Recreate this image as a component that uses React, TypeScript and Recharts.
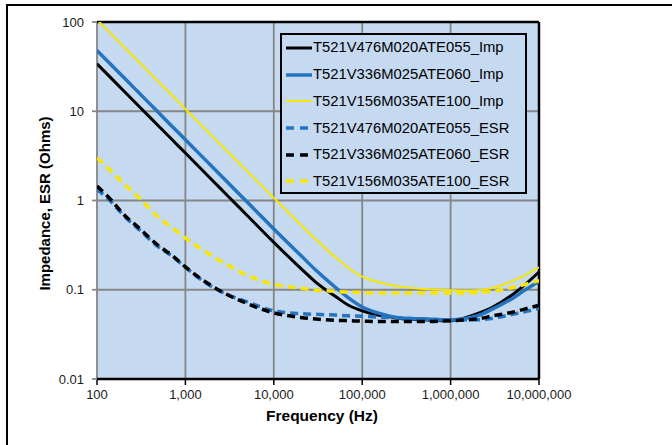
import { CartesianGrid, Line, LineChart, ReferenceLine, XAxis, YAxis } from 'recharts'

const FREQ = [
  100, 140, 200, 300, 500, 700, 1e3, 2e3, 3e3, 5e3, 1e4, 2e4, 3e4, 5e4, 7e4,
  1e5, 1.5e5, 2e5, 3e5, 5e5, 1e6, 1.5e6, 2e6, 3e6, 5e6, 7e6, 1e7,
]

const IMP_476 = [
  34, 24.3, 17, 11.3, 6.8, 4.85, 3.4, 1.7, 1.13, 0.68, 0.34, 0.175, 0.121, 0.084, 0.067,
  0.058, 0.052, 0.05, 0.047, 0.046, 0.045, 0.049, 0.054, 0.064, 0.088, 0.115, 0.158,
]
const IMP_336 = [
  48, 34.3, 24, 16, 9.6, 6.85, 4.8, 2.4, 1.6, 0.96, 0.48, 0.245, 0.165, 0.106, 0.081,
  0.064, 0.055, 0.051, 0.048, 0.047, 0.046, 0.048, 0.051, 0.061, 0.08, 0.1, 0.124,
]
const IMP_156 = [
  106, 76, 53, 35.4, 21.2, 15.2, 10.6, 5.3, 3.54, 2.12, 1.07, 0.54, 0.366, 0.231, 0.175,
  0.14, 0.122, 0.114, 0.107, 0.102, 0.099, 0.098, 0.099, 0.105, 0.125, 0.146, 0.178,
]
const ESR_476 = [
  1.33, 1.0, 0.68, 0.47, 0.3, 0.24, 0.178, 0.108, 0.088, 0.073, 0.058, 0.054, 0.053, 0.052, 0.051,
  0.0505, 0.0495, 0.049, 0.048, 0.047, 0.046, 0.046, 0.046, 0.048, 0.053, 0.057, 0.062,
]
const ESR_336 = [
  1.45, 1.05, 0.7, 0.49, 0.31, 0.245, 0.18, 0.11, 0.088, 0.07, 0.055, 0.049, 0.047, 0.0455, 0.045,
  0.0445, 0.044, 0.044, 0.044, 0.044, 0.045, 0.046, 0.047, 0.051, 0.056, 0.061, 0.067,
]
const ESR_156 = [
  3.0, 2.2, 1.55, 1.07, 0.64, 0.5, 0.38, 0.24, 0.19, 0.145, 0.115, 0.104, 0.099, 0.096, 0.094,
  0.093, 0.092, 0.092, 0.092, 0.092, 0.092, 0.092, 0.093, 0.096, 0.106, 0.115, 0.127,
]

const X_TICKS = [100, 1e3, 1e4, 1e5, 1e6, 1e7]
const Y_TICKS = [0.01, 0.1, 1, 10, 100]

const BLACK = '#000000'
const BLUE = '#2474bf'
const YELLOW = '#f7e600'
const PLOT_BG = '#c5d9f1'
const GRID = '#868686'
const FONT = '"Liberation Sans", Arial, sans-serif'
const DASH = '8 5'

const SERIES = [
  { key: 'imp476', name: 'T521V476M020ATE055_Imp', values: IMP_476, color: BLACK, width: 3, dashed: false },
  { key: 'imp336', name: 'T521V336M025ATE060_Imp', values: IMP_336, color: BLUE, width: 3.5, dashed: false },
  { key: 'imp156', name: 'T521V156M035ATE100_Imp', values: IMP_156, color: YELLOW, width: 2, dashed: false },
  { key: 'esr476', name: 'T521V476M020ATE055_ESR', values: ESR_476, color: BLUE, width: 3.5, dashed: true },
  { key: 'esr336', name: 'T521V336M025ATE060_ESR', values: ESR_336, color: BLACK, width: 3.5, dashed: true },
  { key: 'esr156', name: 'T521V156M035ATE100_ESR', values: ESR_156, color: YELLOW, width: 3.5, dashed: true },
]

const rows = FREQ.map((f, i) => {
  const row: Record<string, number> = { f }
  SERIES.forEach((s) => { row[s.key] = s.values[i] })
  return row
})

const tickStyle = { fill: '#1a1a1a', fontSize: 13, fontFamily: FONT }

function XTitle({ viewBox }: any) {
  const x = viewBox.x + viewBox.width / 2 + 4
  return (
    <text x={x} y={viewBox.y + 42} textAnchor="middle" fontFamily={FONT} fontSize={15.5} fontWeight="bold" fill="#000">
      Frequency (Hz)
    </text>
  )
}

function YTitle({ viewBox }: any) {
  const cx = viewBox.x + 44
  const cy = viewBox.y + viewBox.height / 2 + 3
  return (
    <text
      x={cx}
      y={cy}
      transform={`rotate(-90 ${cx} ${cy})`}
      textAnchor="middle"
      dominantBaseline="central"
      fontFamily={FONT}
      fontSize={15}
      fontWeight="bold"
      fill="#000"
    >
      Impedance, ESR (Ohms)
    </text>
  )
}

function LegendBox() {
  return (
    <div
      style={{
        position: 'absolute', left: 280, top: 33, width: 243, height: 157,
        border: '2.5px solid #000', background: PLOT_BG, fontFamily: FONT, fontSize: 14.8,
      }}
    >
      {SERIES.map((s, i) => (
        <div key={s.key} style={{ display: 'flex', alignItems: 'center', height: 26.7, marginTop: i === 0 ? -0.5 : 0 }}>
          <svg width={28} height={10} style={{ marginLeft: 3 }}>
            <line
              x1={1} y1={5} x2={27} y2={5}
              stroke={s.color}
              strokeWidth={s.width}
              strokeDasharray={s.dashed ? '8 6' : undefined}
            />
          </svg>
          <span style={{ color: '#000', lineHeight: 1, whiteSpace: 'nowrap' }}>{s.name}</span>
        </div>
      ))}
    </div>
  )
}

export default function App() {
  return (
    <div style={{ position: 'absolute', left: 0, top: 0, width: 672, height: 445, overflow: 'hidden', background: '#fff' }}>
      <div style={{ position: 'absolute', left: 6, top: 3.5, width: 700, height: 480, borderTop: '2.5px solid #000', borderLeft: '2.5px solid #000' }} />
      <LineChart width={672} height={445} data={rows} margin={{ top: 22, right: 133, bottom: 0, left: 0 }}>
        <CartesianGrid fill={PLOT_BG} stroke={GRID} strokeWidth={1.8} fillOpacity={1} />
        <XAxis
          dataKey="f"
          type="number"
          scale="log"
          domain={[100, 1e7]}
          ticks={X_TICKS}
          tickFormatter={(v: number) => v.toLocaleString('en-US')}
          tick={tickStyle}
          tickSize={6}
          tickMargin={5}
          tickLine={{ stroke: '#000', strokeWidth: 1.5 }}
          axisLine={{ stroke: '#000', strokeWidth: 2.5 }}
          height={66}
          allowDataOverflow
          interval={0}
          label={{ content: XTitle }}
        />
        <YAxis
          type="number"
          scale="log"
          domain={[0.01, 100]}
          ticks={Y_TICKS}
          tickFormatter={(v: number) => String(v)}
          tick={tickStyle}
          tickSize={5}
          tickMargin={8}
          tickLine={{ stroke: GRID, strokeWidth: 1.8 }}
          axisLine={false}
          width={97}
          allowDataOverflow
          interval={0}
          label={{ content: YTitle }}
        />
        <ReferenceLine y={100} stroke="#000" strokeWidth={2.5} />
        <ReferenceLine x={1e7} stroke="#000" strokeWidth={2.5} />
        {SERIES.map((s) => (
          <Line
            key={s.key}
            dataKey={s.key}
            name={s.name}
            type="monotone"
            stroke={s.color}
            strokeWidth={s.width}
            strokeDasharray={s.dashed ? DASH : undefined}
            dot={false}
            activeDot={false}
            isAnimationActive={false}
          />
        ))}
      </LineChart>
      <LegendBox />
    </div>
  )
}
